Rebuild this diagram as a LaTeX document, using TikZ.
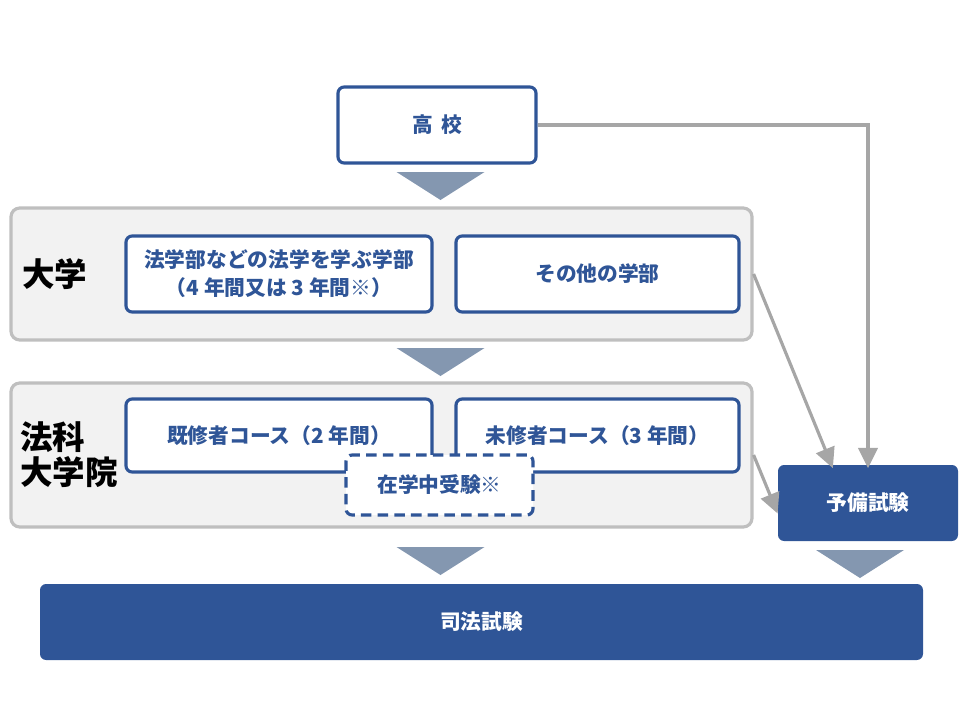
\documentclass[tikz,border=0pt]{standalone}
\usepackage{fontspec}
\usetikzlibrary{calc,arrows.meta}
\newfontfamily\jp{Noto Sans CJK JP}
\definecolor{navy}{HTML}{2F5597}
\definecolor{trigray}{HTML}{8497B0}
\definecolor{linegray}{HTML}{A6A6A6}
\definecolor{groupgray}{HTML}{F2F2F2}
\definecolor{groupline}{HTML}{BFBFBF}
\tikzset{
	box/.style={draw=navy, line width=1.8pt, fill=white, rounded corners=3.5pt, text=navy, font=\jp\bfseries\fontsize{11.8}{16}\selectfont, align=center, inner sep=0pt},
	fullbox/.style={fill=navy, rounded corners=3.5pt, text=white, font=\jp\bfseries\fontsize{11.8}{16}\selectfont, inner sep=0pt},
	group/.style={draw=groupline, line width=1.8pt, fill=groupgray, rounded corners=5pt, inner sep=0pt},
	grouplabel/.style={font=\jp\bfseries\fontsize{18.5}{20}\selectfont, align=left, inner sep=0pt},
	flow/.style={draw=linegray, line width=1.8pt, -{Triangle[length=11.5pt, width=11pt]}},
}
\def\downtri(#1){\fill[trigray] ($(#1)+(-44,0)$) -- ($(#1)+(44,0)$) -- ($(#1)+(0,28)$) -- cycle;}

\begin{document}
\begin{tikzpicture}[x=0.02cm, y=-0.02cm]
			%%%%% START %%%%%
			\useasboundingbox (0,0) rectangle (960,720);
			
			% groups
			\node[group, minimum width=741*0.02cm, minimum height=132*0.02cm] (daigaku) at (381.5,274) {};
			\node[grouplabel, anchor=west] (daigakulabel) at (22,274) {大学};
			\node[group, minimum width=741*0.02cm, minimum height=144*0.02cm] (hoka) at (381.5,455) {};
			\node[grouplabel, anchor=west] (hokalabel) at (20,455) {法科\\大学院};
			
			% boxes
			\node[box, minimum width=198*0.02cm, minimum height=76*0.02cm] (koukou) at (437,125) {高\hspace{0.4em}校};
			\node[box, minimum width=306*0.02cm, minimum height=76*0.02cm] (hougakubu) at (279,274) {法学部などの法学を学ぶ学部\\（4 年間又は 3 年間※）};
			\node[box, minimum width=283*0.02cm, minimum height=76*0.02cm] (sonota) at (597.5,274) {その他の学部};
			\node[box, minimum width=306*0.02cm, minimum height=73*0.02cm] (kishu) at (279,435.5) {既修者コース（2 年間）};
			\node[box, minimum width=283*0.02cm, minimum height=73*0.02cm] (mishu) at (597.5,435.5) {未修者コース（3 年間）};
			\node[box, dash pattern=on 6pt off 3.5pt, minimum width=187*0.02cm, minimum height=60*0.02cm] (zaigaku) at (439.5,485) {在学中受験※};
			\node[fullbox, minimum width=180*0.02cm, minimum height=76*0.02cm] (yobi) at (868,503) {予備試験};
			\node[fullbox, minimum width=883*0.02cm, minimum height=76*0.02cm] (shihou) at (481.5,622) {司法試験};
			
			% down triangles
			\downtri(440.5,172)
			\downtri(440.5,348)
			\downtri(440.5,547)
			\downtri(860,550)
			
			% connectors
			\draw[flow] (koukou.east) -| ([yshift=-2]yobi.north);
			\draw[flow] (daigaku.east) -- ([xshift=-20, yshift=-2]yobi.north);
			\draw[flow] (hoka.east) -- ([yshift=-6]yobi.west);
			
			%%%%% END %%%%%
		\end{tikzpicture}
\end{document}
